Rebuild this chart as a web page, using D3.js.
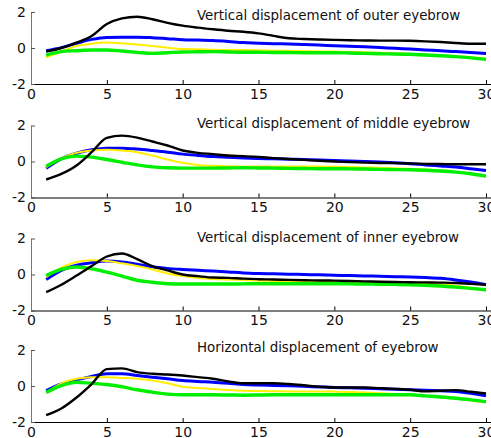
<!DOCTYPE html>
<html>
<head>
<meta charset="utf-8">
<script src="https://cdn.jsdelivr.net/npm/d3@7"></script>
<style>
  html, body { margin: 0; padding: 0; background: #fff; }
  svg { display: block; }
  text { font-family: "DejaVu Sans", Verdana, sans-serif; fill: #111; }
</style>
</head>
<body>
<svg id="chart" width="491" height="438"></svg>
<script>
// Frames 1..30
const frames = d3.range(1, 31);

const xTicks = [0, 5, 10, 15, 20, 25, 30];
const yTicks = [-2, 0, 2];

const panelTitles = [
  "Vertical displacement of outer eyebrow",
  "Vertical displacement of middle eyebrow",
  "Vertical displacement of inner eyebrow",
  "Horizontal displacement of eyebrow"
];

const seriesNames = ["blue", "yellow", "green", "black"];

// Outer eyebrow, vertical
const outerBlue   = [-0.15, 0.02, 0.26, 0.48, 0.59, 0.60, 0.60, 0.57, 0.52, 0.46, 0.44, 0.41, 0.36, 0.30, 0.27, 0.24, 0.22, 0.19, 0.16, 0.13, 0.10, 0.07, 0.03, -0.02, -0.06, -0.11, -0.15, -0.20, -0.25, -0.30];
const outerYellow = [-0.52, -0.20, 0.11, 0.24, 0.30, 0.26, 0.19, 0.11, 0.02, -0.06, -0.07, -0.10, -0.11, -0.11, -0.13, -0.15, -0.16, -0.18, -0.19, -0.20, -0.22, -0.24, -0.27, -0.30, -0.33, -0.37, -0.41, -0.46, -0.51, -0.57];
const outerGreen  = [-0.39, -0.20, -0.15, -0.11, -0.11, -0.17, -0.24, -0.30, -0.26, -0.22, -0.21, -0.20, -0.22, -0.24, -0.24, -0.25, -0.25, -0.26, -0.26, -0.26, -0.28, -0.30, -0.32, -0.33, -0.35, -0.39, -0.43, -0.48, -0.55, -0.63];
const outerBlack  = [-0.20, 0.00, 0.30, 0.67, 1.33, 1.65, 1.74, 1.60, 1.40, 1.24, 1.13, 1.04, 0.96, 0.90, 0.81, 0.67, 0.54, 0.50, 0.47, 0.45, 0.43, 0.42, 0.41, 0.41, 0.40, 0.37, 0.33, 0.28, 0.24, 0.24];

// Middle eyebrow, vertical
const middleBlue   = [-0.37, 0.15, 0.46, 0.65, 0.74, 0.74, 0.69, 0.61, 0.52, 0.41, 0.34, 0.28, 0.24, 0.20, 0.17, 0.15, 0.13, 0.11, 0.08, 0.06, 0.03, 0.00, -0.03, -0.07, -0.12, -0.19, -0.25, -0.31, -0.40, -0.50];
const middleYellow = [-0.31, 0.19, 0.48, 0.61, 0.65, 0.61, 0.52, 0.33, 0.11, -0.07, -0.19, -0.24, -0.27, -0.28, -0.28, -0.28, -0.28, -0.28, -0.28, -0.29, -0.31, -0.33, -0.35, -0.37, -0.40, -0.45, -0.51, -0.59, -0.70, -0.85];
const middleGreen  = [-0.26, 0.15, 0.30, 0.24, 0.11, -0.04, -0.19, -0.30, -0.35, -0.37, -0.37, -0.37, -0.36, -0.35, -0.36, -0.37, -0.38, -0.39, -0.40, -0.40, -0.41, -0.42, -0.44, -0.45, -0.46, -0.49, -0.53, -0.59, -0.68, -0.81];
const middleBlack  = [-1.00, -0.69, -0.22, 0.52, 1.31, 1.44, 1.33, 1.11, 0.89, 0.61, 0.48, 0.41, 0.33, 0.30, 0.25, 0.19, 0.14, 0.09, 0.04, 0.00, -0.03, -0.06, -0.08, -0.09, -0.11, -0.13, -0.14, -0.15, -0.15, -0.15];

// Inner eyebrow, vertical
const innerBlue   = [-0.28, 0.23, 0.51, 0.66, 0.75, 0.70, 0.57, 0.43, 0.34, 0.28, 0.23, 0.19, 0.14, 0.09, 0.06, 0.04, 0.02, 0.00, -0.02, -0.04, -0.06, -0.08, -0.10, -0.12, -0.14, -0.17, -0.21, -0.30, -0.42, -0.57];
const innerYellow = [-0.15, 0.38, 0.70, 0.79, 0.75, 0.62, 0.47, 0.28, 0.06, -0.09, -0.19, -0.25, -0.28, -0.30, -0.33, -0.36, -0.38, -0.40, -0.41, -0.42, -0.43, -0.43, -0.43, -0.44, -0.45, -0.48, -0.53, -0.62, -0.74, -0.89];
const innerGreen  = [-0.06, 0.28, 0.42, 0.32, 0.13, -0.09, -0.32, -0.43, -0.51, -0.53, -0.53, -0.53, -0.53, -0.52, -0.51, -0.51, -0.51, -0.51, -0.51, -0.51, -0.52, -0.53, -0.54, -0.55, -0.57, -0.60, -0.64, -0.70, -0.77, -0.85];
const innerBlack  = [-0.98, -0.57, -0.06, 0.47, 1.00, 1.17, 0.85, 0.47, 0.23, 0.00, -0.09, -0.17, -0.19, -0.23, -0.26, -0.28, -0.30, -0.32, -0.33, -0.34, -0.36, -0.38, -0.40, -0.42, -0.43, -0.44, -0.45, -0.47, -0.52, -0.57];

// Eyebrow, horizontal
const horizBlue   = [-0.26, 0.11, 0.34, 0.53, 0.68, 0.68, 0.58, 0.49, 0.40, 0.30, 0.25, 0.21, 0.15, 0.08, 0.05, 0.03, 0.01, -0.02, -0.05, -0.08, -0.10, -0.12, -0.15, -0.18, -0.21, -0.24, -0.27, -0.30, -0.40, -0.55];
const horizYellow = [-0.36, 0.15, 0.40, 0.49, 0.49, 0.45, 0.40, 0.30, 0.15, -0.04, -0.11, -0.17, -0.22, -0.26, -0.28, -0.29, -0.30, -0.30, -0.30, -0.31, -0.33, -0.36, -0.40, -0.44, -0.49, -0.55, -0.61, -0.68, -0.79, -0.92];
const horizGreen  = [-0.36, 0.02, 0.21, 0.15, 0.08, -0.04, -0.21, -0.34, -0.45, -0.49, -0.49, -0.49, -0.50, -0.51, -0.50, -0.49, -0.49, -0.49, -0.49, -0.49, -0.49, -0.49, -0.49, -0.49, -0.49, -0.55, -0.61, -0.68, -0.77, -0.87];
const horizBlack  = [-1.62, -1.25, -0.64, 0.11, 0.94, 0.98, 0.77, 0.68, 0.64, 0.58, 0.49, 0.40, 0.25, 0.15, 0.15, 0.15, 0.11, 0.04, -0.04, -0.08, -0.08, -0.08, -0.12, -0.16, -0.21, -0.30, -0.26, -0.23, -0.32, -0.42];

const panels = [
  { title: panelTitles[0], values: [outerBlue, outerYellow, outerGreen, outerBlack] },
  { title: panelTitles[1], values: [middleBlue, middleYellow, middleGreen, middleBlack] },
  { title: panelTitles[2], values: [innerBlue, innerYellow, innerGreen, innerBlack] },
  { title: panelTitles[3], values: [horizBlue, horizYellow, horizGreen, horizBlack] }
];

const styles = {
  blue:   { color: "#0000ff", width: 3 },
  yellow: { color: "#ffee00", width: 2 },
  green:  { color: "#00ee00", width: 3.4 },
  black:  { color: "#000000", width: 2.4 }
};

const svg = d3.select("#chart");
const left = 31, right = 486, plotH = 72;
const panelTops = [12, 125.5, 238.5, 350];
const titleBaselines = [20, 128.3, 242.3, 352.3];

const x = d3.scaleLinear().domain([0, 30]).range([left, right]);
const fmt = d => String(d);

panels.forEach((p, i) => {
  const top = panelTops[i];
  const y = d3.scaleLinear().domain([-2, 2]).range([top + plotH, top]);
  const g = svg.append("g");

  // curves
  const line = d3.line()
    .x((d, k) => x(frames[k]))
    .y(d => y(d))
    .curve(d3.curveMonotoneX);

  p.values.forEach((vals, s) => {
    const st = styles[seriesNames[s]];
    g.append("path")
      .datum(vals)
      .attr("fill", "none")
      .attr("stroke", st.color)
      .attr("stroke-width", st.width)
      .attr("stroke-linejoin", "round")
      .attr("d", line);
  });

  // x axis
  const xAxis = d3.axisBottom(x).tickValues(xTicks).tickFormat(fmt)
    .tickSizeInner(-4).tickSizeOuter(0).tickPadding(5);
  const gx = g.append("g").attr("transform", `translate(0,${top + plotH})`).call(xAxis);
  gx.select(".domain").attr("stroke", "#000").attr("d", `M${left},0.5H491`);
  gx.selectAll(".tick line").attr("stroke", "#000");
  gx.selectAll("text").attr("font-size", 14).attr("fill", "#111")
    .attr("font-family", "DejaVu Sans, Verdana, sans-serif");

  // y axis
  const yAxis = d3.axisLeft(y).tickValues(yTicks).tickFormat(fmt)
    .tickSizeInner(-4).tickSizeOuter(0).tickPadding(5);
  const gy = g.append("g").attr("transform", `translate(${left},0)`).call(yAxis);
  gy.select(".domain").attr("stroke", "#777");
  gy.selectAll(".tick line").attr("stroke", "#555");
  gy.selectAll("text").attr("font-size", 14).attr("fill", "#111")
    .attr("font-family", "DejaVu Sans, Verdana, sans-serif");

  // title
  g.append("text")
    .attr("x", 197)
    .attr("y", titleBaselines[i])
    .attr("font-size", 13.4)
    .text(p.title);
});
</script>
</body>
</html>
